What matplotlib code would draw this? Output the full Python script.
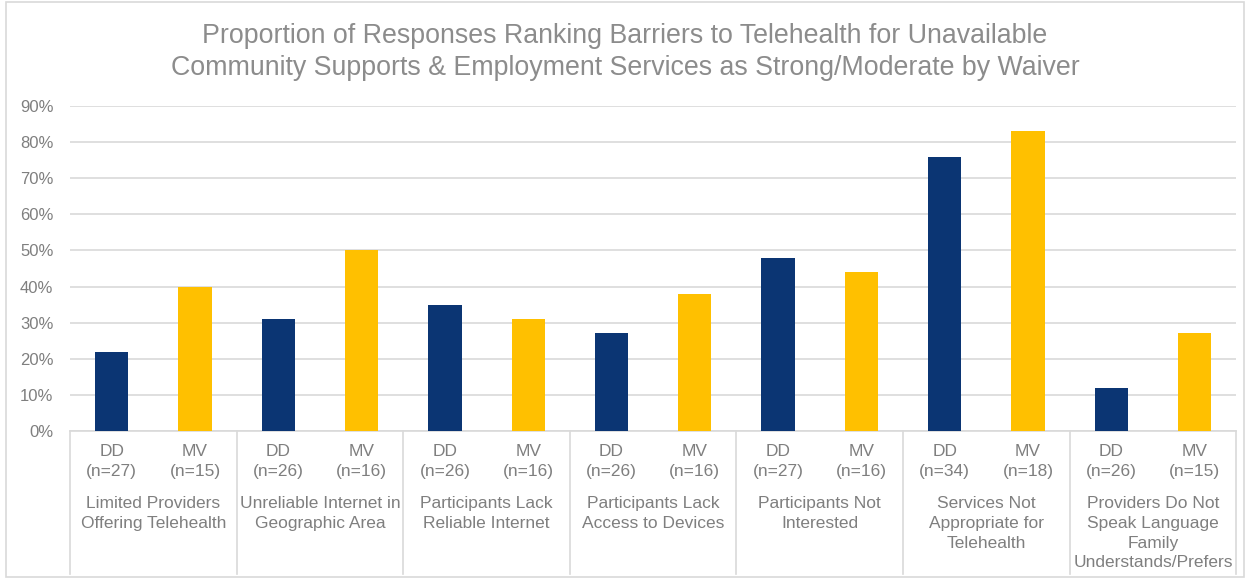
import numpy as np
import matplotlib.pyplot as plt
from matplotlib.patches import Rectangle

plt.rcParams['font.family'] = ['Liberation Sans', 'DejaVu Sans']

# data
groups = [
    "Limited Providers\nOffering Telehealth",
    "Unreliable Internet in\nGeographic Area",
    "Participants Lack\nReliable Internet",
    "Participants Lack\nAccess to Devices",
    "Participants Not\nInterested",
    "Services Not\nAppropriate for\nTelehealth",
    "Providers Do Not\nSpeak Language\nFamily\nUnderstands/Prefers",
]
dd_n = [27, 26, 26, 26, 27, 34, 26]
mv_n = [15, 16, 16, 16, 16, 18, 15]
dd_vals = [22, 31, 35, 27, 48, 76, 12]
mv_vals = [40, 50, 31, 38, 44, 83, 27]

navy = "#0B3573"
gold = "#FFC000"
txt = "#7F7F7F"
grid = "#D9D9D9"

fig = plt.figure(figsize=(12.5, 5.79), dpi=100)
ax = fig.add_axes([0.056, 0.2556, 0.933, 0.5614])

ng = len(groups)
x_dd = np.arange(ng) * 2
x_mv = x_dd + 1

ax.bar(x_dd, dd_vals, width=0.4, color=navy, zorder=3)
ax.bar(x_mv, mv_vals, width=0.4, color=gold, zorder=3)

ax.set_xlim(-0.5, 2 * ng - 0.5)
ax.set_ylim(0, 90)
ax.set_yticks(np.arange(0, 91, 10))
ax.set_yticklabels([f"{v}%" for v in range(0, 91, 10)], fontsize=12, color=txt)
ax.yaxis.grid(True, color=grid, linewidth=1.2, zorder=0)
ax.tick_params(axis='y', length=0, pad=12)
ax.tick_params(axis='x', length=0)
ax.set_xticks([])

for s in ["top", "right", "left"]:
    ax.spines[s].set_visible(False)
ax.spines["bottom"].set_color(grid)
ax.spines["bottom"].set_linewidth(1.2)

trans = ax.get_xaxis_transform()
for i in range(ng):
    ax.text(x_dd[i], -0.04, f"DD\n(n={dd_n[i]})", transform=trans, ha="center", va="top",
            fontsize=12.5, color=txt, linespacing=1.4, clip_on=False)
    ax.text(x_mv[i], -0.04, f"MV\n(n={mv_n[i]})", transform=trans, ha="center", va="top",
            fontsize=12.5, color=txt, linespacing=1.4, clip_on=False)
    ax.text(x_dd[i] + 0.5, -0.2, groups[i], transform=trans, ha="center", va="top",
            fontsize=12.5, color=txt, linespacing=1.4, clip_on=False)

# group separators below the axis
for b in np.arange(ng + 1) * 2 - 0.5:
    ax.plot([b, b], [0, -0.44], transform=trans, color=grid, linewidth=1.2, clip_on=False)

fig.text(0.5, 0.91, "Proportion of Responses Ranking Barriers to Telehealth for Unavailable\n"
         "Community Supports & Employment Services as Strong/Moderate by Waiver",
         ha="center", va="center", fontsize=19.3, color="#8C8C8C", linespacing=1.3)

fig.patches.append(Rectangle((0.005, 0.003), 0.99, 0.994, transform=fig.transFigure,
                             fill=False, edgecolor=grid, linewidth=1.2))

plt.savefig("out.png", dpi=100)
